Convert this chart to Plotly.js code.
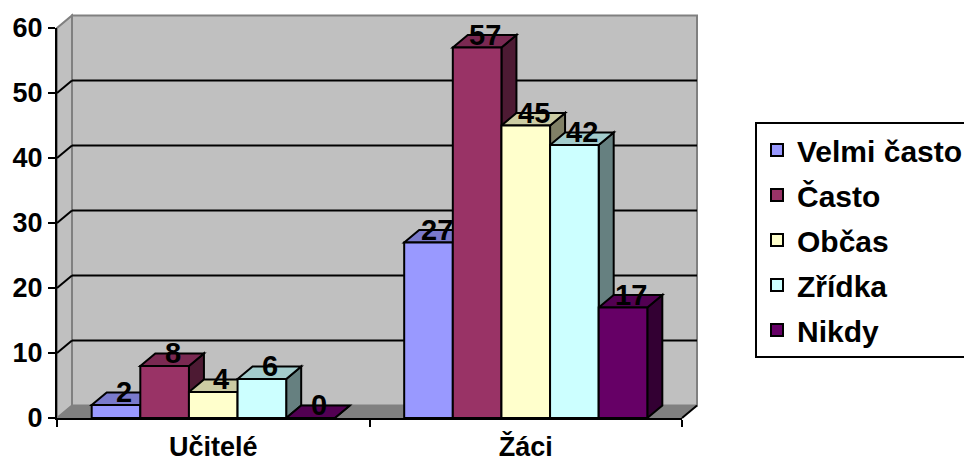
<!DOCTYPE html>
<html><head><meta charset="utf-8">
<script src="https://cdn.plot.ly/plotly-3.0.1.min.js"></script>
<style>html,body{margin:0;padding:0;background:#fff}</style>
</head><body><div id="chart" style="width:964px;height:464px"></div>
<script>
// ---- data ----
const categories = ['Učitelé', 'Žáci'];
const seriesNames = ['Velmi často', 'Často', 'Občas', 'Zřídka', 'Nikdy'];
const velmiCasto = [2, 27];
const casto = [8, 57];
const obcas = [4, 45];
const zridka = [6, 42];
const nikdy = [0, 17];
const yTickValues = [0, 10, 20, 30, 40, 50, 60];

const seriesValues = [velmiCasto, casto, obcas, zridka, nikdy];
const frontColors = ['#9999FF', '#993366', '#FFFFCC', '#CCFFFF', '#660066'];

// ---- geometry ----
const W = 964, H = 464;
const ml = 57, mr = 282, mt = 28, mb = 46;
const plotW = W - ml - mr, plotH = H - mt - mb;
const yMax = 60;
const depthPx = 15, risePx = 12.5;
const dxP = depthPx / plotW, dyP = risePx / plotH;
const dxC = depthPx / (plotW / categories.length);
const dyV = risePx / (plotH / yMax);
const bargap = 0.222;
const groupW = 1 - bargap;
const bw = groupW / seriesNames.length;
const FONT = 'Arial, "Liberation Sans", sans-serif';

function shade(hex, f) {
  const n = parseInt(hex.slice(1), 16);
  const r = Math.round(((n >> 16) & 255) * f), g = Math.round(((n >> 8) & 255) * f), b = Math.round((n & 255) * f);
  return 'rgb(' + r + ',' + g + ',' + b + ')';
}

const traces = seriesNames.map((name, i) => ({
  type: 'bar', name: name, x: categories, y: seriesValues[i],
  marker: {color: frontColors[i], line: {color: '#000', width: 2}},
  legendgroup: 'g' + i, hoverinfo: 'skip', cliponaxis: false
}));

const shapes = [];
// back wall
shapes.push({type: 'rect', xref: 'paper', yref: 'paper', x0: dxP, y0: dyP, x1: 1 + dxP, y1: 1 + dyP,
  fillcolor: '#C0C0C0', line: {color: '#808080', width: 2}, layer: 'below'});
// left side wall
shapes.push({type: 'path', xref: 'paper', yref: 'paper',
  path: `M0,0 L${dxP},${dyP} L${dxP},${1 + dyP} L0,1 Z`,
  fillcolor: '#C0C0C0', line: {color: '#808080', width: 2}, layer: 'below'});
// floor
shapes.push({type: 'path', xref: 'paper', yref: 'paper',
  path: `M0,0 L1,0 L${1 + dxP},${dyP} L${dxP},${dyP} Z`,
  fillcolor: '#808080', line: {color: '#808080', width: 1}, layer: 'below'});
// gridlines
yTickValues.forEach(v => {
  if (v === 0 || v === yMax) return;
  const yp = v / yMax;
  shapes.push({type: 'line', xref: 'paper', yref: 'paper', x0: dxP, x1: 1 + dxP, y0: yp + dyP, y1: yp + dyP,
    line: {color: '#000', width: 2}, layer: 'below'});
  shapes.push({type: 'line', xref: 'paper', yref: 'paper', x0: 0, x1: dxP, y0: yp, y1: yp + dyP,
    line: {color: '#000', width: 2}, layer: 'below'});
});
// right floor edge diagonal
shapes.push({type: 'line', xref: 'paper', yref: 'paper', x0: 1, x1: 1 + dxP, y0: 0, y1: dyP,
  line: {color: '#000', width: 2}, layer: 'below'});

// 3D bar faces (top and side), derived from data
const annotations = [];
categories.forEach((cat, j) => {
  seriesNames.forEach((name, i) => {
    const v = seriesValues[i][j];
    const left = j - groupW / 2 + bw * i;
    const right = left + bw;
    shapes.push({type: 'path', xref: 'x', yref: 'y',
      path: `M${right},0 L${right + dxC},${dyV} L${right + dxC},${v + dyV} L${right},${v} Z`,
      fillcolor: shade(frontColors[i], 0.5), line: {color: '#000', width: 2}, layer: 'below'});
    shapes.push({type: 'path', xref: 'x', yref: 'y',
      path: `M${left},${v} L${left + dxC},${v + dyV} L${right + dxC},${v + dyV} L${right},${v} Z`,
      fillcolor: shade(frontColors[i], 0.8), line: {color: '#000', width: 2}, layer: 'below'});
    annotations.push({x: (left + right) / 2, y: v, xref: 'x', yref: 'y', text: String(v),
      showarrow: false, xanchor: 'center', yanchor: 'bottom', xshift: 8, yshift: -5,
      font: {family: FONT, size: 29, weight: 'bold', color: '#000'}});
  });
});

const axisFont = {family: FONT, size: 27, weight: 'bold', color: '#000'};
const layout = {
  width: W, height: H,
  margin: {l: ml, r: mr, t: mt, b: mb, pad: 0, autoexpand: false},
  paper_bgcolor: '#fff', plot_bgcolor: 'rgba(0,0,0,0)',
  barmode: 'group', bargap: bargap, bargroupgap: 0,
  xaxis: {type: 'category', range: [-0.5, 1.5], tickson: 'boundaries', ticks: 'outside', ticklen: 7,
    tickwidth: 2, tickcolor: '#000', showline: true, linecolor: '#000', linewidth: 2,
    showgrid: false, zeroline: false, tickfont: axisFont, ticklabelstandoff: 4, fixedrange: true},
  yaxis: {range: [0, yMax], tickvals: yTickValues, ticks: 'outside', ticklen: 7, tickwidth: 2,
    tickcolor: '#000', showline: true, linecolor: '#000', linewidth: 2, showgrid: false,
    zeroline: false, tickfont: axisFont, fixedrange: true},
  legend: {x: (755 - ml) / plotW, y: (H - mb - 122) / plotH, xanchor: 'left', yanchor: 'top',
    bordercolor: '#000', borderwidth: 2, bgcolor: '#fff', tracegroupgap: 3,
    font: {family: FONT, size: 30, weight: 'bold', color: '#000'}},
  shapes: shapes,
  annotations: annotations,
  showlegend: true
};
Plotly.newPlot('chart', traces, layout, {staticPlot: true, displayModeBar: false});
</script>
</body></html>
